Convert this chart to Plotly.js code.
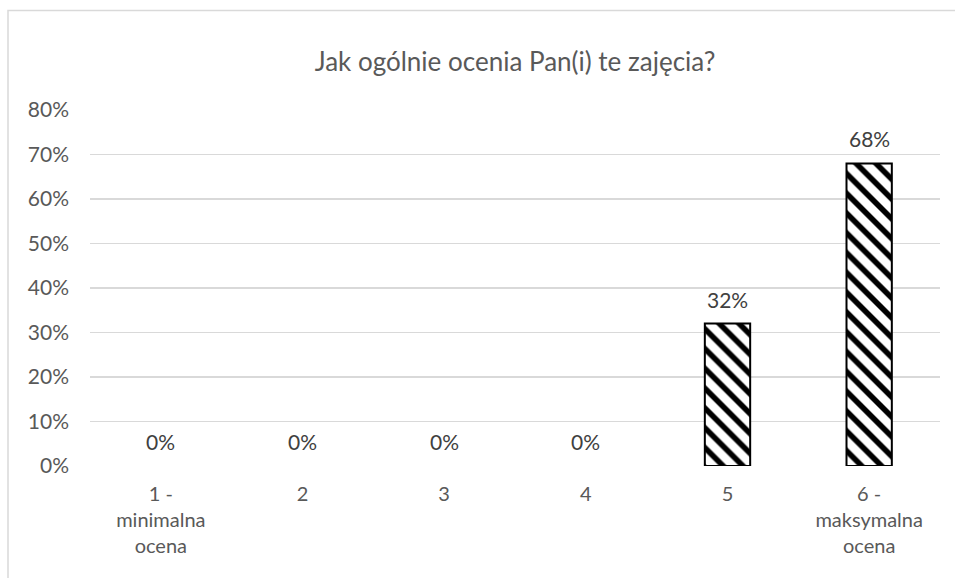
<!DOCTYPE html>
<html>
<head>
<meta charset="utf-8">
<script src="https://cdn.plot.ly/plotly-3.0.1.min.js"></script>
<style>html,body{margin:0;padding:0;background:#fff;}#chart{width:955px;height:578px;}</style>
</head>
<body>
<div id="chart"></div>
<script>
const categories = ["1 -<br>minimalna<br>ocena", "2", "3", "4", "5", "6 -<br>maksymalna<br>ocena"];
const values = [0, 0, 0, 0, 0.32, 0.68];
const valueLabels = ["0%", "0%", "0%", "0%", "32%", "68%"];
const yTickVals = [0, 0.1, 0.2, 0.3, 0.4, 0.5, 0.6, 0.7, 0.8];
const yTickText = ["0%", "10%", "20%", "30%", "40%", "50%", "60%", "70%", "80%"];

const font = "Lato, 'Open Sans', sans-serif";
const idx = categories.map((c, i) => i);

const trace = {
  type: "bar",
  x: idx,
  y: values,
  marker: {
    color: "#ffffff",
    line: {color: "#000000", width: values.map(v => v > 0 ? 2 : 0)},
    pattern: {shape: "\\", fgcolor: "#000000", bgcolor: "#ffffff", size: 14, solidity: 0.4}
  },
  hoverinfo: "none"
};

const annotations = idx.map(i => ({
  x: i, y: values[i], xref: "x", yref: "y",
  text: valueLabels[i], showarrow: false,
  yanchor: "bottom", yshift: 10,
  font: {family: font, size: 21, color: "#404040"}
}));

const layout = {
  width: 955, height: 578,
  margin: {l: 90, r: 15, t: 110, b: 112},
  paper_bgcolor: "#ffffff", plot_bgcolor: "#ffffff",
  showlegend: false,
  bargap: 0.68,
  title: {
    text: "Jak ogólnie ocenia Pan(i) te zajęcia?",
    x: 0.5, xref: "paper", xanchor: "center",
    y: 1 - 62/578, yref: "container", yanchor: "middle",
    font: {family: font, size: 26, color: "#595959"}
  },
  xaxis: {
    type: "linear",
    range: [-0.5, 5.5],
    tickvals: idx, ticktext: categories,
    showgrid: false, zeroline: false, showline: false,
    ticks: "", tickfont: {family: font, size: 20, color: "#595959"},
    ticklabelstandoff: 14
  },
  yaxis: {
    range: [0, 0.8],
    tickvals: yTickVals, ticktext: yTickText,
    showgrid: true, gridcolor: "#d9d9d9", gridwidth: 1.3,
    zeroline: false, showline: false, ticks: "",
    tickfont: {family: font, size: 21, color: "#595959"},
    ticklabelstandoff: 20
  },
  annotations: annotations,
  shapes: [{
    type: "rect", xref: "paper", yref: "paper",
    x0: (8 - 90) / 850, x1: 1.2, y0: -0.6, y1: 1 + (110 - 10.5) / 356,
    line: {color: "#d9d9d9", width: 1.5}, fillcolor: "rgba(0,0,0,0)", layer: "below"
  }]
};

Plotly.newPlot("chart", [trace], layout, {displayModeBar: false, staticPlot: true});
</script>
</body>
</html>
